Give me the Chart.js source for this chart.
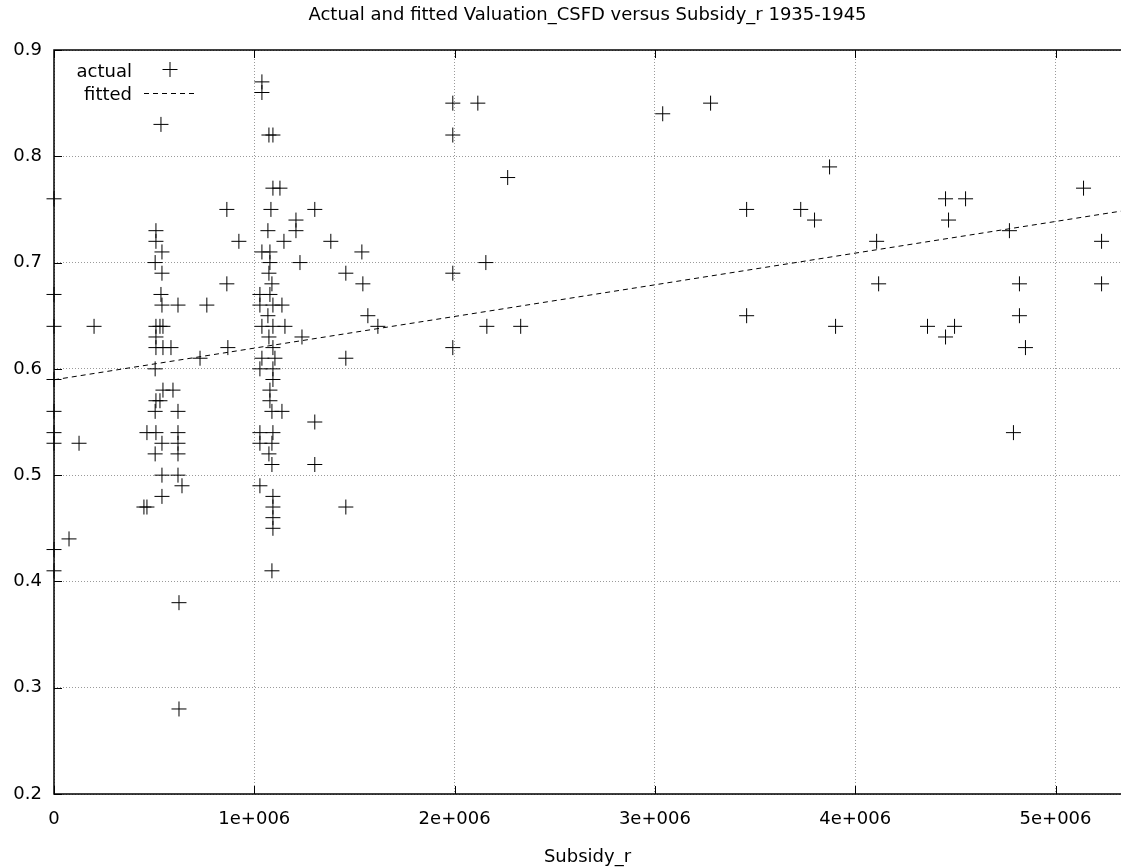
<!DOCTYPE html>
<html>
<head>
<meta charset="utf-8">
<script src="https://cdn.jsdelivr.net/npm/chart.js@4.4.1/dist/chart.umd.min.js"></script>
<style>
  html, body { margin: 0; padding: 0; background: #ffffff; overflow: hidden; }
  #wrap { width: 1121px; height: 868px; }
  canvas { display: block; }
</style>
</head>
<body>
<div id="wrap"><canvas id="c" width="1121" height="868"></canvas></div>
<script>
// Observations: Subsidy_r (x) and Valuation_CSFD (y), 1935-1945
const subsidyR = [
  0, 0, 0, 0, 0, 0, 0, 0, 0, 75000, 125000, 200000,
  509000, 509000, 539000, 505000, 539000, 534000, 539000, 619000, 763000,
  509000, 529000, 544000, 509000, 509000, 544000, 584000, 729000, 868000,
  863000, 863000, 923000, 534000, 505000, 544000, 594000, 509000, 529000,
  505000, 619000, 464000, 509000, 619000, 539000, 619000, 505000, 619000,
  539000, 619000, 639000, 539000, 449000, 464000, 624000, 624000,
  1038000, 1038000, 1073000, 1093000, 1093000, 1128000, 1083000, 1068000,
  1148000, 1038000, 1078000, 1078000, 1073000, 1088000, 1028000, 1078000,
  1028000, 1093000, 1138000, 1068000, 1038000, 1093000, 1153000, 1073000,
  1093000, 1038000, 1103000, 1028000, 1093000, 1093000, 1078000, 1078000,
  1088000, 1138000, 1028000, 1093000, 1028000, 1088000, 1073000, 1088000,
  1028000, 1093000, 1093000, 1093000, 1093000, 1088000,
  1208000, 1208000, 1302000, 1382000, 1537000, 1228000, 1457000, 1542000,
  1567000, 1617000, 1238000, 1457000, 1302000, 1302000, 1457000,
  1991000, 2116000, 1991000, 2265000, 2156000, 1991000, 2161000, 2330000, 1991000,
  3039000, 3278000, 3458000, 3458000, 3728000, 3797000, 3872000, 3902000,
  4107000, 4117000, 4361000, 4451000, 4466000, 4451000, 4496000, 4551000,
  4820000, 4820000, 4770000, 4790000, 4850000, 5140000, 5230000, 5230000
];
const valuation = [
  0.76, 0.67, 0.64, 0.59, 0.56, 0.54, 0.53, 0.43, 0.41, 0.44, 0.53, 0.64,
  0.73, 0.72, 0.71, 0.70, 0.69, 0.67, 0.66, 0.66, 0.66,
  0.64, 0.64, 0.64, 0.63, 0.62, 0.62, 0.62, 0.61, 0.62,
  0.68, 0.75, 0.72, 0.83, 0.60, 0.58, 0.58, 0.57, 0.57,
  0.56, 0.56, 0.54, 0.54, 0.54, 0.53, 0.53, 0.52, 0.52,
  0.50, 0.50, 0.49, 0.48, 0.47, 0.47, 0.38, 0.28,
  0.87, 0.86, 0.82, 0.82, 0.77, 0.77, 0.75, 0.73,
  0.72, 0.71, 0.71, 0.70, 0.69, 0.68, 0.67, 0.67,
  0.66, 0.66, 0.66, 0.65, 0.64, 0.64, 0.64, 0.63,
  0.62, 0.61, 0.61, 0.60, 0.60, 0.59, 0.58, 0.57,
  0.56, 0.56, 0.54, 0.54, 0.53, 0.53, 0.52, 0.51,
  0.49, 0.48, 0.47, 0.46, 0.45, 0.41,
  0.74, 0.73, 0.75, 0.72, 0.71, 0.70, 0.69, 0.68,
  0.65, 0.64, 0.63, 0.61, 0.55, 0.51, 0.47,
  0.85, 0.85, 0.82, 0.78, 0.70, 0.69, 0.64, 0.64, 0.62,
  0.84, 0.85, 0.75, 0.65, 0.75, 0.74, 0.79, 0.64,
  0.72, 0.68, 0.64, 0.76, 0.74, 0.63, 0.64, 0.76,
  0.68, 0.65, 0.73, 0.54, 0.62, 0.77, 0.72, 0.68
];

// Fitted regression line end points
const fittedX = [0, 5330000];
const fittedY = [0.5897, 0.7485];

// Axis ticks
const xTickValues = [0, 1000000, 2000000, 3000000, 4000000, 5000000];
const xTickLabels = ['0', '1e+006', '2e+006', '3e+006', '4e+006', '5e+006'];
const yTickValues = [0.2, 0.3, 0.4, 0.5, 0.6, 0.7, 0.8, 0.9];
const yTickLabels = ['0.2', '0.3', '0.4', '0.5', '0.6', '0.7', '0.8', '0.9'];

const X_MIN = 0, X_MAX = 5327000, Y_MIN = 0.2, Y_MAX = 0.9;
const FONT = 'DejaVu Sans, Verdana, sans-serif';
const FONT_SIZE = 18;

const actualPoints = subsidyR.map((x, i) => ({ x: x, y: valuation[i] }));
const fittedPoints = fittedX.map((x, i) => ({ x: x, y: fittedY[i] }));

// Plot frame, inward tick marks and the in-plot key
const framePlugin = {
  id: 'frame',
  afterDatasetsDraw(chart) {
    const { ctx, chartArea: a, scales } = chart;
    ctx.save();
    ctx.strokeStyle = '#000';
    ctx.lineWidth = 1.5;
    ctx.beginPath();
    ctx.moveTo(a.right + 2, a.top);
    ctx.lineTo(a.left, a.top);
    ctx.lineTo(a.left, a.bottom);
    ctx.lineTo(a.right + 2, a.bottom);
    ctx.stroke();
    ctx.lineWidth = 1;
    ctx.beginPath();
    xTickValues.forEach(v => {
      const px = Math.round(scales.x.getPixelForValue(v)) + 0.5;
      ctx.moveTo(px, a.bottom); ctx.lineTo(px, a.bottom - 8);
      ctx.moveTo(px, a.top); ctx.lineTo(px, a.top + 8);
    });
    yTickValues.forEach(v => {
      const py = Math.round(scales.y.getPixelForValue(v)) + 0.5;
      ctx.moveTo(a.left, py); ctx.lineTo(a.left + 8, py);
    });
    ctx.stroke();
    ctx.restore();
  },
  afterDraw(chart) {
    const { ctx } = chart;
    const ds = chart.data.datasets;
    ctx.save();
    ctx.font = FONT_SIZE + 'px ' + FONT;
    ctx.fillStyle = '#000';
    ctx.textAlign = 'right';
    ctx.textBaseline = 'middle';
    ctx.fillText(ds[0].label, 132, 72);
    ctx.fillText(ds[1].label, 132, 95);
    ctx.strokeStyle = '#000';
    ctx.lineWidth = 1;
    ctx.beginPath();
    ctx.moveTo(162.5, 69.5); ctx.lineTo(177.5, 69.5);
    ctx.moveTo(170, 62); ctx.lineTo(170, 77);
    ctx.stroke();
    ctx.setLineDash([5, 4]);
    ctx.beginPath();
    ctx.moveTo(144, 93.5); ctx.lineTo(198, 93.5);
    ctx.stroke();
    ctx.restore();
  }
};

new Chart(document.getElementById('c'), {
  type: 'scatter',
  data: {
    datasets: [
      {
        label: 'actual',
        data: actualPoints,
        pointStyle: 'cross',
        pointRadius: 7.5,
        pointHoverRadius: 7.5,
        pointBorderWidth: 1,
        pointBorderColor: '#000',
        pointBackgroundColor: '#000',
        showLine: false,
        clip: false
      },
      {
        type: 'line',
        label: 'fitted',
        data: fittedPoints,
        borderColor: '#000',
        borderWidth: 1,
        borderDash: [5, 4],
        pointRadius: 0,
        fill: false,
        tension: 0
      }
    ]
  },
  options: {
    responsive: false,
    animation: false,
    devicePixelRatio: 1,
    layout: { autoPadding: false, padding: { left: 0, right: 0, top: 0, bottom: 0 } },
    plugins: {
      legend: { display: false },
      tooltip: { enabled: false },
      title: {
        display: true,
        fullSize: false,
        text: 'Actual and fitted Valuation_CSFD versus Subsidy_r 1935-1945',
        color: '#000',
        font: { family: FONT, size: FONT_SIZE, weight: 'normal' },
        padding: { top: 4.7, bottom: 23.7 }
      }
    },
    scales: {
      x: {
        type: 'linear',
        min: X_MIN,
        max: X_MAX,
        afterBuildTicks: s => { s.ticks = xTickValues.map(v => ({ value: v })); },
        afterFit: s => { s.height = 74; s.paddingLeft = 0; s.paddingRight = 0; },
        ticks: {
          autoSkip: false,
          maxRotation: 0,
          padding: 15,
          color: '#000',
          font: { family: FONT, size: FONT_SIZE },
          callback: (v, i) => xTickLabels[i]
        },
        grid: { color: '#9a9a9a', lineWidth: 1, drawTicks: false },
        border: { display: false, dash: [1, 2] },
        title: {
          display: true,
          text: 'Subsidy_r',
          color: '#000',
          font: { family: FONT, size: FONT_SIZE },
          padding: { top: 0, bottom: 0 }
        }
      },
      y: {
        type: 'linear',
        min: Y_MIN,
        max: Y_MAX,
        afterBuildTicks: s => { s.ticks = yTickValues.map(v => ({ value: v })); },
        afterFit: s => { s.width = 54; s.paddingTop = 0; s.paddingBottom = 0; },
        ticks: {
          padding: 12,
          color: '#000',
          font: { family: FONT, size: FONT_SIZE },
          callback: (v, i) => yTickLabels[i]
        },
        grid: { color: '#9a9a9a', lineWidth: 1, drawTicks: false },
        border: { display: false, dash: [1, 2] }
      }
    }
  },
  plugins: [framePlugin]
});
</script>
</body>
</html>
